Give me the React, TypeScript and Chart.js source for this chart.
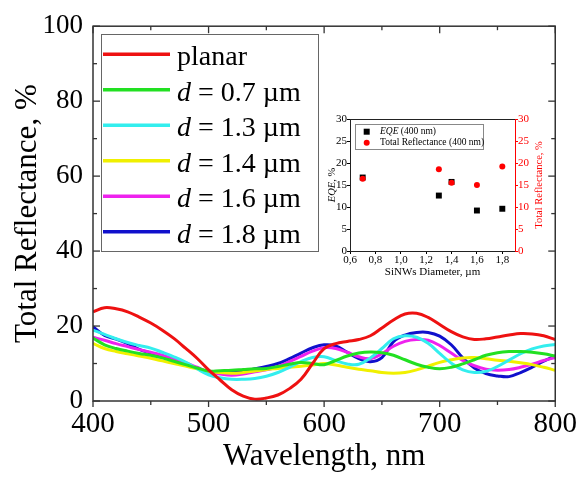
import React, { useEffect, useRef } from 'react';
import { Chart, registerables } from 'chart.js';

Chart.register(...registerables);

const FONT = '"Liberation Serif", "Times New Roman", serif';

// ---------- main chart data ----------
const wavelengths = [
  400, 410, 420, 430, 440, 450, 460, 470, 480, 490,
  500, 510, 520, 530, 540, 550, 560, 570, 580, 590,
  600, 610, 620, 630, 640, 650, 660, 670, 680, 690,
  700, 710, 720, 730, 740, 750, 760, 770, 780, 790, 800,
];

const planar = [
  23.8, 24.9, 24.6, 23.8, 22.4, 20.8, 18.9, 16.7, 14.1, 11.4,
  8.3, 5.6, 3.0, 1.3, 0.5, 0.8, 1.6, 3.3, 5.8, 10.0,
  14.0, 15.3, 15.9, 16.4, 17.4, 19.5, 21.6, 23.2, 23.4, 22.3,
  20.4, 18.5, 17.1, 16.4, 16.6, 17.1, 17.6, 18.0, 17.9, 17.4, 16.4,
];
const d07 = [
  16.8, 15.0, 14.0, 13.3, 12.7, 12.2, 11.5, 10.6, 9.7, 8.8,
  8.0, 8.1, 8.2, 8.4, 8.6, 8.7, 9.2, 9.8, 10.3, 10.0,
  9.7, 10.8, 12.0, 12.8, 13.1, 12.9, 12.2, 11.0, 9.8, 9.0,
  8.6, 9.0, 9.9, 11.0, 12.2, 12.9, 13.2, 13.2, 13.0, 12.6, 12.0,
];
const d13 = [
  18.9, 17.8, 16.6, 15.6, 14.8, 14.1, 13.0, 11.8, 10.4, 8.6,
  7.0, 6.2, 5.8, 5.8, 6.0, 6.6, 7.6, 9.0, 10.5, 11.6,
  11.8, 10.8, 9.9, 9.8, 11.5, 14.0, 16.6, 17.4, 17.0, 15.4,
  12.7, 10.1, 8.3, 7.6, 7.9, 9.2, 10.9, 12.6, 13.9, 14.7, 15.1,
];
const d14 = [
  15.4, 14.0, 13.2, 12.6, 12.0, 11.4, 10.7, 10.0, 9.3, 8.6,
  7.9, 7.6, 7.4, 7.6, 8.0, 8.4, 8.7, 9.0, 9.3, 9.6,
  10.0, 9.6, 9.0, 8.5, 8.1, 7.6, 7.4, 7.6, 8.3, 9.3,
  10.3, 11.0, 11.5, 11.6, 11.3, 10.9, 10.6, 10.2, 9.7, 9.0, 8.2,
];
const d16 = [
  17.0, 16.2, 15.3, 14.5, 13.7, 13.0, 12.2, 11.2, 10.2, 9.0,
  7.8, 7.2, 6.9, 7.2, 7.8, 8.3, 9.2, 10.5, 11.9, 13.3,
  14.2, 14.0, 13.0, 11.8, 11.3, 12.6, 14.6, 15.9, 16.4, 16.2,
  14.8, 12.8, 10.8, 9.4, 8.5, 8.2, 8.4, 9.0, 9.8, 10.8, 11.6,
];
const d18 = [
  19.8, 17.5, 16.5, 15.3, 13.8, 12.8, 11.8, 10.8, 9.9, 8.8,
  7.8, 7.6, 7.6, 8.0, 8.6, 9.2, 10.0, 11.3, 12.8, 14.2,
  15.0, 14.7, 13.0, 11.3, 10.5, 11.6, 15.8, 17.6, 18.3, 18.3,
  17.3, 15.0, 11.5, 8.8, 7.3, 6.7, 6.5, 7.6, 9.0, 10.6, 12.0,
];

const seriesLabels = ['planar', 'd = 0.7 µm', 'd = 1.3 µm', 'd = 1.4 µm', 'd = 1.6 µm', 'd = 1.8 µm'];
const seriesValues = [planar, d07, d13, d14, d16, d18];
const seriesColors = ['#ee1111', '#22e022', '#33eeee', '#f0f000', '#ee22ee', '#1010cc'];

// ---------- inset data ----------
const insetDiameters = [0.7, 1.3, 1.4, 1.6, 1.8];
const insetEQE = [16.7, 12.6, 15.7, 9.2, 9.6];
const insetReflectance = [16.4, 18.6, 15.5, 15.0, 19.2];
const insetXTicks = [0.6, 0.8, 1.0, 1.2, 1.4, 1.6, 1.8];

function strokeLine(ctx: CanvasRenderingContext2D, x1: number, y1: number, x2: number, y2: number) {
  ctx.beginPath();
  ctx.moveTo(x1, y1);
  ctx.lineTo(x2, y2);
  ctx.stroke();
}

function drawRichLabel(ctx: CanvasRenderingContext2D, label: string, x: number, y: number, size: number) {
  if (label.startsWith('d ')) {
    ctx.font = `italic ${size}px ${FONT}`;
    ctx.fillText('d', x, y);
    const w = ctx.measureText('d').width;
    ctx.font = `${size}px ${FONT}`;
    ctx.fillText(label.slice(1), x + w, y);
  } else {
    ctx.font = `${size}px ${FONT}`;
    ctx.fillText(label, x, y);
  }
}

const mainFrame = {
  id: 'mainFrame',
  afterDatasetsDraw(chart: any) {
    const { ctx, chartArea: a, scales } = chart;
    const xs = scales.x;
    const ys = scales.y;
    ctx.save();
    ctx.strokeStyle = '#333';
    ctx.lineWidth = 1.5;
    ctx.strokeRect(a.left, a.top, a.right - a.left, a.bottom - a.top);
    ctx.lineWidth = 1.3;
    for (let v = xs.min; v <= xs.max; v += 50) {
      const px = xs.getPixelForValue(v);
      const major = v % 100 === 0;
      strokeLine(ctx, px, a.bottom, px, a.bottom + (major ? 6 : 4));
      strokeLine(ctx, px, a.top, px, a.top + (major ? 7 : 4));
    }
    for (let v = ys.min; v <= ys.max; v += 10) {
      const py = ys.getPixelForValue(v);
      const major = v % 20 === 0;
      strokeLine(ctx, a.left, py, a.left + (major ? 7 : 4), py);
      strokeLine(ctx, a.right, py, a.right - (major ? 7 : 4), py);
    }
    ctx.restore();
  },
  afterDraw(chart: any) {
    const ctx: CanvasRenderingContext2D = chart.ctx;
    ctx.save();
    ctx.fillStyle = '#fff';
    ctx.fillRect(101, 34, 217, 217);
    ctx.strokeStyle = '#666';
    ctx.lineWidth = 1;
    ctx.strokeRect(101.5, 34.5, 217, 217);
    chart.data.datasets.forEach((ds: any, i: number) => {
      const y = 54.3 + i * 35.5;
      ctx.strokeStyle = ds.borderColor;
      ctx.lineWidth = 3.5;
      strokeLine(ctx, 103, y, 170, y);
      ctx.fillStyle = '#000';
      ctx.textBaseline = 'alphabetic';
      ctx.textAlign = 'left';
      drawRichLabel(ctx, ds.label, 177, y + 11, 28);
    });
    ctx.restore();
  },
};

const insetExtras = {
  id: 'insetExtras',
  afterDraw(chart: any) {
    const ctx: CanvasRenderingContext2D = chart.ctx;
    const a = chart.chartArea;
    ctx.save();
    ctx.strokeStyle = '#222';
    ctx.lineWidth = 1;
    strokeLine(ctx, a.left, a.top + 0.5, a.right, a.top + 0.5);

    const cy = (a.top + a.bottom) / 2;
    // left title: EQE, %
    ctx.save();
    ctx.translate(32, cy);
    ctx.rotate(-Math.PI / 2);
    ctx.textBaseline = 'middle';
    ctx.fillStyle = '#000';
    ctx.font = `italic 10.5px ${FONT}`;
    const w1 = ctx.measureText('EQE').width;
    ctx.font = `10.5px ${FONT}`;
    const w2 = ctx.measureText(', %').width;
    const start = -(w1 + w2) / 2;
    ctx.textAlign = 'left';
    ctx.font = `italic 10.5px ${FONT}`;
    ctx.fillText('EQE', start, 0);
    ctx.font = `10.5px ${FONT}`;
    ctx.fillText(', %', start + w1, 0);
    ctx.restore();

    // right title
    ctx.save();
    ctx.translate(239, cy);
    ctx.rotate(-Math.PI / 2);
    ctx.textBaseline = 'middle';
    ctx.textAlign = 'center';
    ctx.fillStyle = '#ff0000';
    ctx.font = `10.5px ${FONT}`;
    ctx.fillText('Total Reflectance, %', 0, 0);
    ctx.restore();

    // legend
    ctx.fillStyle = '#fff';
    ctx.fillRect(55, 24, 128, 25);
    ctx.strokeStyle = '#888';
    ctx.strokeRect(55.5, 24.5, 128, 25);
    ctx.fillStyle = '#000';
    ctx.fillRect(66.7 - 3, 31.7 - 3, 6, 6);
    ctx.fillStyle = '#ff0000';
    ctx.beginPath();
    ctx.arc(66.7, 42.7, 3, 0, Math.PI * 2);
    ctx.fill();
    ctx.fillStyle = '#000';
    ctx.textBaseline = 'middle';
    ctx.textAlign = 'left';
    ctx.font = `italic 9.5px ${FONT}`;
    ctx.fillText('EQE', 80, 31.7);
    const we = ctx.measureText('EQE').width;
    ctx.font = `9.5px ${FONT}`;
    ctx.fillText(' (400 nm)', 80 + we, 31.7);
    ctx.fillText('Total Reflectance (400 nm)', 80, 42.7);
    ctx.restore();
  },
};

export default function App() {
  const mainRef = useRef<HTMLCanvasElement>(null);
  const insetRef = useRef<HTMLCanvasElement>(null);

  useEffect(() => {
    const main = new Chart(mainRef.current as HTMLCanvasElement, {
      type: 'line',
      data: {
        datasets: seriesValues.map((vals, i) => ({
          label: seriesLabels[i],
          data: wavelengths.map((w, j) => ({ x: w, y: vals[j] })),
          borderColor: seriesColors[i],
          backgroundColor: seriesColors[i],
          borderWidth: 3,
          pointRadius: 0,
          tension: 0.4,
          fill: false,
        })),
      },
      options: {
        responsive: false,
        animation: false,
        devicePixelRatio: 1,
        layout: { padding: { top: 25, right: 24, left: 0, bottom: 0 } },
        plugins: { legend: { display: false }, tooltip: { enabled: false } },
        scales: {
          x: {
            type: 'linear',
            min: 400,
            max: 800,
            ticks: { stepSize: 100, font: { family: FONT, size: 29 }, color: '#000', padding: 6 },
            grid: { display: false, drawTicks: false },
            border: { display: false },
            title: {
              display: true,
              text: 'Wavelength, nm',
              font: { family: FONT, size: 31 },
              color: '#000',
              padding: { top: 0, bottom: 1.5 },
            },
            afterFit: (s: any) => { s.height = 76; },
          },
          y: {
            type: 'linear',
            min: 0,
            max: 100,
            ticks: { stepSize: 20, font: { family: FONT, size: 27 }, color: '#000', padding: 10 },
            grid: { display: false, drawTicks: false },
            border: { display: false },
            title: {
              display: true,
              text: 'Total Reflectance, %',
              font: { family: FONT, size: 31 },
              color: '#000',
              padding: { top: 9, bottom: 0 },
            },
            afterFit: (s: any) => { s.width = 93; },
          },
        },
      } as any,
      plugins: [mainFrame],
    });

    const inset = new Chart(insetRef.current as HTMLCanvasElement, {
      type: 'scatter',
      data: {
        datasets: [
          {
            label: 'Total Reflectance (400 nm)',
            data: insetDiameters.map((d, i) => ({ x: d, y: insetReflectance[i] })),
            yAxisID: 'y2',
            pointStyle: 'circle',
            pointRadius: 3,
            backgroundColor: '#ff0000',
            borderColor: '#ff0000',
            borderWidth: 0,
          },
          {
            label: 'EQE (400 nm)',
            data: insetDiameters.map((d, i) => ({ x: d, y: insetEQE[i] })),
            yAxisID: 'y',
            pointStyle: 'rect',
            pointRadius: 4.2,
            backgroundColor: '#000',
            borderColor: '#000',
            borderWidth: 0,
          },
        ],
      },
      options: {
        responsive: false,
        animation: false,
        devicePixelRatio: 1,
        layout: { padding: { top: 19, right: 0, left: 0, bottom: 0 } },
        plugins: { legend: { display: false }, tooltip: { enabled: false } },
        scales: {
          x: {
            type: 'linear',
            min: 0.6,
            max: 1.9,
            afterBuildTicks: (s: any) => { s.ticks = insetXTicks.map((v) => ({ value: v })); },
            ticks: {
              font: { family: FONT, size: 11 },
              color: '#000',
              padding: 0,
              callback: (v: any) => Number(v).toFixed(1).replace('.', ','),
            },
            grid: { drawOnChartArea: false, drawTicks: true, tickLength: 3, color: '#000' },
            border: { display: true, color: '#222', width: 1 },
            title: {
              display: true,
              text: 'SiNWs Diameter, µm',
              font: { family: FONT, size: 11 },
              color: '#000',
              padding: { top: 0, bottom: 6 },
            },
            afterFit: (s: any) => { s.height = 34; },
          },
          y: {
            type: 'linear',
            position: 'left',
            min: 0,
            max: 30,
            ticks: { stepSize: 5, font: { family: FONT, size: 11 }, color: '#000', padding: 0 },
            grid: { drawOnChartArea: false, drawTicks: true, tickLength: 3, color: '#000' },
            border: { display: true, color: '#222', width: 1 },
            afterFit: (s: any) => { s.width = 50; },
          },
          y2: {
            type: 'linear',
            position: 'right',
            min: 0,
            max: 30,
            ticks: { stepSize: 5, font: { family: FONT, size: 11 }, color: '#ff0000', padding: 0 },
            grid: { drawOnChartArea: false, drawTicks: true, tickLength: 3, color: '#ff0000' },
            border: { display: true, color: '#ff0000', width: 1 },
            afterFit: (s: any) => { s.width = 55; },
          },
        },
      } as any,
      plugins: [insetExtras],
    });

    return () => {
      main.destroy();
      inset.destroy();
    };
  }, []);

  return (
    <div style={{ position: 'absolute', left: 0, top: 0, width: 583, height: 477, background: '#fff' }}>
      <canvas
        ref={mainRef}
        width={583}
        height={477}
        style={{ position: 'absolute', left: 0, top: 0, width: 583, height: 477 }}
      />
      <canvas
        ref={insetRef}
        width={270}
        height={185}
        style={{ position: 'absolute', left: 300, top: 100, width: 270, height: 185 }}
      />
    </div>
  );
}
